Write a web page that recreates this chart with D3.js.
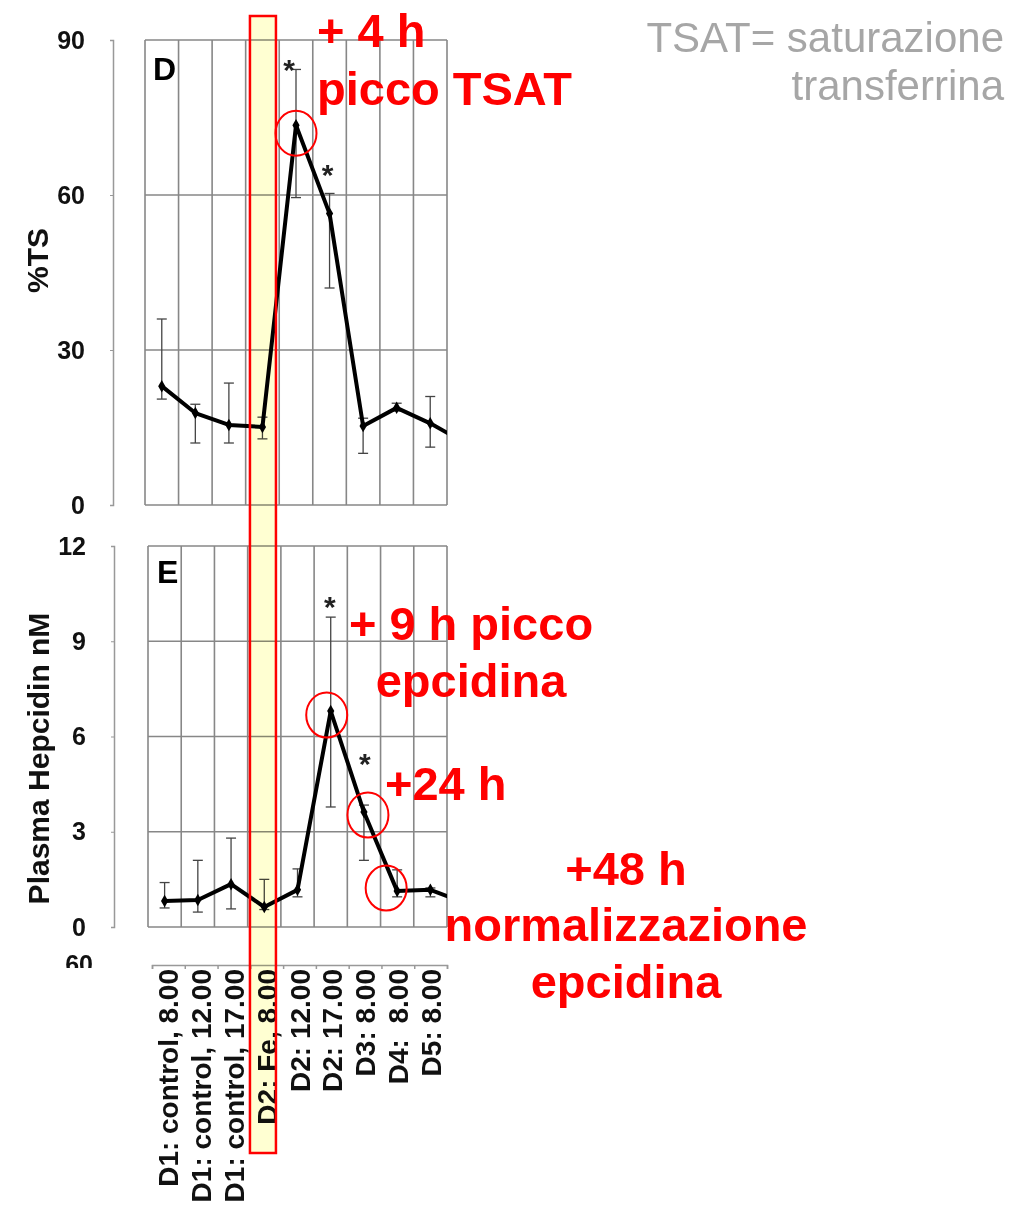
<!DOCTYPE html>
<html>
<head>
<meta charset="utf-8">
<script src="https://cdn.jsdelivr.net/npm/d3@7"></script>
<style>
  body { margin: 0; background: #fff; }
  svg { display: block; font-family: "Liberation Sans", Arial, sans-serif; }
</style>
</head>
<body>
<div id="chart"></div>
<script>
// categories on the shared x axis (a 10th, unlabelled time point is clipped off at the right edge)
const categories = [
  'D1: control, 8.00', 'D1: control, 12.00', 'D1: control, 17.00',
  'D2: Fe, 8.00', 'D2: 12.00', 'D2: 17.00', 'D3: 8.00', 'D4:  8.00', 'D5: 8.00',
];

// panel D: transferrin saturation (%)
const tsValues = [23.0, 17.8, 15.5, 15.1, 73.5, 56.4, 15.3, 18.8, 15.8, 12.2];
const tsUpper = [36.0, 19.5, 23.6, 17.0, 84.3, 60.3, 16.8, 19.7, 21.0];
const tsLower = [20.5, 12.0, 12.0, 12.8, 59.5, 42.0, 10.0, 18.2, 11.2];
const tsTicks = [0, 30, 60, 90];
const tsStars = [{ i: 4, v: 85.6 }, { i: 5, v: 65.3 }];

// panel E: plasma hepcidin (nM)
const hepValues = [0.82, 0.85, 1.35, 0.63, 1.17, 6.8, 3.62, 1.13, 1.17, 0.78];
const hepUpper = [1.4, 2.1, 2.8, 1.5, 1.83, 9.76, 3.84, 1.8, 1.23];
const hepLower = [0.6, 0.47, 0.57, 0.55, 0.95, 3.78, 2.1, 0.95, 0.95];
const hepTicks = [0, 3, 6, 9, 12];
const hepStars = [{ i: 5, v: 10.3 }, { i: 6, v: 5.35 }];

const W = 1009, H = 1206;
const svg = d3.select('#chart').append('svg')
  .attr('width', W)
  .attr('height', H);

const GRID = '#878787';

function drawPanel(p) {
  const x = d3.scaleLinear().domain([0, 9]).range([p.left, p.right]);
  const y = d3.scaleLinear().domain([0, p.yMax]).range([p.bottom, p.top]);
  const g = svg.append('g');

  // grid
  g.append('g').selectAll('line.v')
    .data(d3.range(10))
    .join('line')
    .attr('x1', (d) => x(d)).attr('x2', (d) => x(d))
    .attr('y1', p.top).attr('y2', p.bottom)
    .attr('stroke', GRID).attr('stroke-width', 1.6);
  g.append('g').selectAll('line.h')
    .data(p.ticks)
    .join('line')
    .attr('x1', p.left).attr('x2', p.right)
    .attr('y1', (d) => y(d)).attr('y2', (d) => y(d))
    .attr('stroke', GRID).attr('stroke-width', 1.6);

  // detached y axis
  const axis = g.append('g')
    .attr('transform', `translate(${p.axisX},0)`)
    .call(d3.axisLeft(y).tickValues(p.ticks).tickSize(3).tickPadding(25));
  axis.select('.domain').attr('stroke', '#999').attr('stroke-width', 1.5);
  axis.selectAll('.tick line').attr('stroke', '#999');
  axis.selectAll('.tick text')
    .attr('font-size', 25).attr('font-weight', 'bold').attr('fill', '#111')
    .attr('font-family', '"Liberation Sans", Arial, sans-serif');

  g.append('text')
    .attr('transform', `translate(${p.labelX},${(p.top + p.bottom) / 2 + p.labelDy}) rotate(-90)`)
    .attr('text-anchor', 'middle')
    .attr('dy', '0.35em')
    .attr('font-size', 30).attr('font-weight', 'bold').attr('fill', '#111')
    .text(p.yLabel);

  g.append('text')
    .attr('x', p.left + p.letterDx).attr('y', p.top + p.letterDy)
    .attr('font-size', 32).attr('font-weight', 'bold').attr('fill', '#000')
    .text(p.letter);

  const clipId = `clip-${p.letter}`;
  svg.append('clipPath').attr('id', clipId)
    .append('rect')
    .attr('x', p.left).attr('y', p.top - 40)
    .attr('width', p.right - p.left).attr('height', p.bottom - p.top + 60);

  const plot = g.append('g').attr('clip-path', `url(#${clipId})`);

  // error bars
  const eb = plot.append('g').selectAll('g')
    .data(p.upper.map((u, i) => ({ i, u, l: p.lower[i] })))
    .join('g')
    .attr('stroke', '#444').attr('stroke-width', 1.3);
  eb.append('line')
    .attr('x1', (d) => x(d.i + 0.5)).attr('x2', (d) => x(d.i + 0.5))
    .attr('y1', (d) => y(d.u)).attr('y2', (d) => y(d.l));
  ['u', 'l'].forEach((k) => {
    eb.append('line')
      .attr('x1', (d) => x(d.i + 0.5) - 5).attr('x2', (d) => x(d.i + 0.5) + 5)
      .attr('y1', (d) => y(d[k])).attr('y2', (d) => y(d[k]));
  });

  const line = d3.line()
    .x((d, i) => x(i + 0.5))
    .y((d) => y(d));
  plot.append('path')
    .datum(p.values)
    .attr('d', line)
    .attr('fill', 'none')
    .attr('stroke', '#000')
    .attr('stroke-width', 4)
    .attr('stroke-linejoin', 'round');

  plot.append('g').selectAll('path')
    .data(p.values)
    .join('path')
    .attr('transform', (d, i) => `translate(${x(i + 0.5)},${y(d)})`)
    .attr('d', d3.symbol(d3.symbolDiamond, 45))
    .attr('fill', '#000');

  // significance stars
  g.append('g').selectAll('text')
    .data(p.stars)
    .join('text')
    .attr('x', (d, k) => x(d.i + 0.5) - p.starDx[k])
    .attr('y', (d) => y(d.v) + 17)
    .attr('text-anchor', 'middle')
    .attr('font-size', 30).attr('font-weight', 'bold').attr('fill', '#222')
    .text('*');

  // red circles around the highlighted points
  g.append('g').selectAll('ellipse')
    .data(p.circles)
    .join('ellipse')
    .attr('cx', (d) => x(d.i + 0.5) + d.dx)
    .attr('cy', (d) => y(p.values[d.i]) + d.dy)
    .attr('rx', 20.5).attr('ry', 22.5)
    .attr('fill', 'none')
    .attr('stroke', '#ff0000').attr('stroke-width', 2);

  return { x, y };
}

const panelD = drawPanel({
  left: 145, right: 447, top: 40, bottom: 505, axisX: 113,
  yMax: 90, ticks: tsTicks, values: tsValues, upper: tsUpper, lower: tsLower,
  stars: tsStars, starDx: [7, 2],
  circles: [{ i: 4, dx: 0, dy: 8 }],
  letter: 'D', letterDx: 8, letterDy: 40, yLabel: '%TS', labelX: 37, labelDy: -12,
});

drawPanel({
  left: 148, right: 447, top: 546, bottom: 927, axisX: 114,
  yMax: 12, ticks: hepTicks, values: hepValues, upper: hepUpper, lower: hepLower,
  stars: hepStars, starDx: [1, -1],
  circles: [{ i: 5, dx: -4, dy: 4 }, { i: 6, dx: 4, dy: 3 }, { i: 7, dx: -11, dy: -3 }],
  letter: 'E', letterDx: 9, letterDy: 37, yLabel: 'Plasma Hepcidin nM', labelX: 38, labelDy: 22,
});

// shared category axis under panel E
const xl = d3.scaleLinear().domain([0, 9]).range([152, 447]);
const xAxis = svg.append('g')
  .attr('transform', 'translate(0,965)')
  .call(d3.axisBottom(xl).tickValues(d3.range(10)).tickSize(4).tickFormat(''));
xAxis.select('.domain').attr('stroke', '#999').attr('stroke-width', 1.5);
xAxis.selectAll('.tick line').attr('stroke', '#999').attr('stroke-width', 1.5);

svg.append('g').selectAll('text')
  .data(categories)
  .join('text')
  .attr('transform', (d, i) => `translate(${xl(i + 0.5)},969) rotate(-90)`)
  .attr('text-anchor', 'end')
  .attr('dy', '0.36em')
  .attr('font-size', 28).attr('font-weight', 'bold').attr('fill', '#111')
  .style('white-space', 'pre')
  .text((d) => d);

// cut-off "60" of the panel below
svg.append('clipPath').attr('id', 'clip-60')
  .append('rect').attr('x', 0).attr('y', 940).attr('width', 120).attr('height', 28);
svg.append('text')
  .attr('clip-path', 'url(#clip-60)')
  .attr('x', 93).attr('y', 973)
  .attr('text-anchor', 'end')
  .attr('font-size', 25).attr('font-weight', 'bold').attr('fill', '#111')
  .text('60');

// highlighted Fe dosing column
const bandX = panelD.x(3.5) - 12.5;
svg.append('rect')
  .attr('x', bandX).attr('y', 16).attr('width', 26).attr('height', 1137)
  .attr('fill', '#ffffd2')
  .style('mix-blend-mode', 'multiply');
svg.append('rect')
  .attr('x', bandX).attr('y', 16).attr('width', 26).attr('height', 1137)
  .attr('fill', 'none')
  .attr('stroke', '#ff0000').attr('stroke-width', 2.5);

// red callouts
const red = svg.append('g')
  .attr('fill', '#ff0000').attr('font-size', 47).attr('font-weight', 'bold');
red.append('text').attr('x', 317).attr('y', 47).style('white-space', 'pre').text('+ 4 h');
red.append('text').attr('x', 317).attr('y', 105).text('picco TSAT');
red.append('text').attr('x', 471).attr('y', 640).attr('text-anchor', 'middle')
  .style('white-space', 'pre').text('+ 9 h picco');
red.append('text').attr('x', 471).attr('y', 697).attr('text-anchor', 'middle').text('epcidina');
red.append('text').attr('x', 385).attr('y', 800).text('+24 h');
red.append('text').attr('x', 626).attr('y', 885).attr('text-anchor', 'middle').text('+48 h');
red.append('text').attr('x', 626).attr('y', 941).attr('text-anchor', 'middle').text('normalizzazione');
red.append('text').attr('x', 626).attr('y', 998).attr('text-anchor', 'middle').text('epcidina');

// grey note
const note = svg.append('g')
  .attr('fill', '#a6a6a6').attr('font-size', 42).attr('text-anchor', 'end');
note.append('text').attr('x', 1004).attr('y', 52).text('TSAT= saturazione');
note.append('text').attr('x', 1004).attr('y', 100).text('transferrina');
</script>
</body>
</html>
